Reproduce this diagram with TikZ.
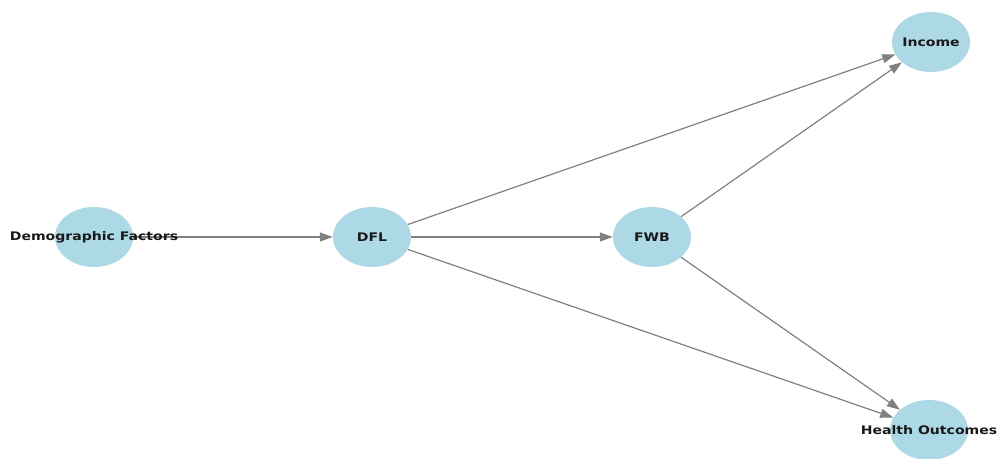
\documentclass[tikz,border=0pt]{standalone}
\usepackage{fontspec}
\setmainfont{DejaVu Sans}
\usetikzlibrary{shapes.geometric,arrows.meta}
\definecolor{nodeblue}{RGB}{173,216,230}
\definecolor{edgegray}{RGB}{128,128,128}
\newcommand{\wlbl}[1]{\scalebox{1.19}[1]{#1}}
\tikzset{
  blob/.style={ellipse, fill=nodeblue, draw=none, minimum width=78pt, minimum height=60pt, inner sep=0pt},
  lbl/.style={font=\fontsize{11.8}{13}\selectfont\bfseries, text=black!90, inner sep=0pt},
  edge/.style={draw=edgegray, line width=1.2pt, -{Triangle[length=13pt,width=9pt]}}
}
\begin{document}
\begin{tikzpicture}[x=1pt,y=-1pt]
\useasboundingbox (0,0) rectangle (998,458);
\node[blob] (dem) at (94,237) {};
\node[blob] (dfl) at (372,237) {};
\node[blob] (fwb) at (652,237) {};
\node[blob] (inc) at (931,42) {};
\node[blob] (hea) at (929,430) {};
\draw[edge] (dem) -- (dfl);
\draw[edge] (dfl) -- (fwb);
\draw[edge] (dfl) -- (inc);
\draw[edge] (dfl) -- (hea);
\draw[edge] (fwb) -- (inc);
\draw[edge] (fwb) -- (hea);
\node[lbl] (demL) at (dem) {\wlbl{Demographic Factors}};
\node[lbl] (dflL) at (dfl) {\wlbl{DFL}};
\node[lbl] (fwbL) at (fwb) {\wlbl{FWB}};
\node[lbl] (incL) at (inc) {\wlbl{Income}};
\node[lbl] (heaL) at (hea) {\wlbl{Health Outcomes}};
\end{tikzpicture}
\end{document}
